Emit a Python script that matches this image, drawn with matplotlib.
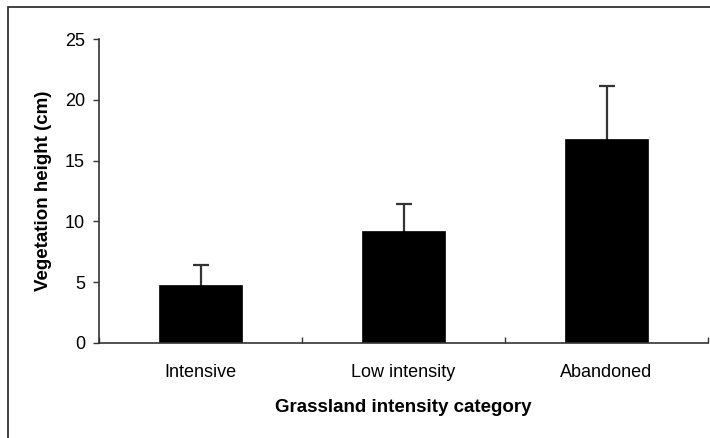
import matplotlib
matplotlib.use("Agg")
import matplotlib.pyplot as plt
from matplotlib.patches import Rectangle

categories = ["Intensive", "Low intensity", "Abandoned"]
heights = [4.75, 9.2, 16.75]
errors = [1.65, 2.2, 4.4]
yticks = [0, 5, 10, 15, 20, 25]

plt.rcParams['font.family'] = ['Liberation Sans', 'DejaVu Sans']

fig = plt.figure(figsize=(7.1, 4.38), dpi=100)
ax = fig.add_axes([99/710, 1 - 342.7/438, (708 - 99)/710, (342.7 - 39.3)/438])

x = list(range(len(categories)))
ax.errorbar(x, heights, yerr=errors, fmt="none", ecolor="#333333",
            elinewidth=1.6, capsize=5.5, capthick=1.6, zorder=1)
ax.bar(x, heights, width=0.41, color="black", edgecolor="black", linewidth=0.5, zorder=2)

ax.set_xlim(-0.5, 2.5)
ax.set_ylim(0, 25)
ax.set_yticks(yticks)
ax.set_yticklabels([str(v) for v in yticks], fontsize=13)
ax.set_xticks(x)
ax.set_xticklabels(categories, fontsize=13)
ax.tick_params(axis="x", which="major", length=0, pad=15)
ax.set_xticks([-0.5, 0.5, 1.5, 2.5], minor=True)
ax.tick_params(axis="x", which="minor", direction="in", length=4, width=1, color="#333333")
ax.tick_params(axis="y", direction="out", length=4, width=1, color="#333333", pad=6)

for side in ["top", "right"]:
    ax.spines[side].set_visible(False)
for side in ["left", "bottom"]:
    ax.spines[side].set_color("#333333")
    ax.spines[side].set_linewidth(1.2)

ax.set_ylabel("Vegetation height (cm)", fontsize=13.5, fontweight="bold", labelpad=9)
ax.set_xlabel("Grassland intensity category", fontsize=13.5, fontweight="bold", labelpad=13)

# figure border (right and bottom edges fall outside the image)
fig.patches.append(Rectangle((8/710, -0.1), 1.2, 1 - 7.5/438 + 0.1, transform=fig.transFigure,
                             fill=False, edgecolor="#333333", linewidth=1.3))

fig.savefig("out.png", dpi=100)
